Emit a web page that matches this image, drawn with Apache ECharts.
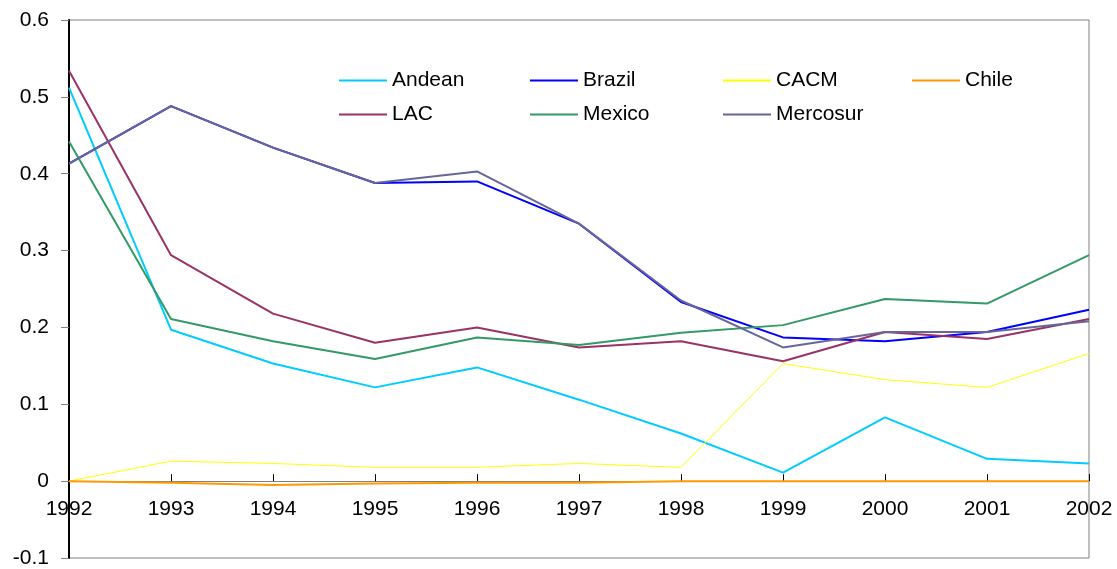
<!DOCTYPE html>
<html>
<head>
<meta charset="utf-8">
<script src="https://cdn.jsdelivr.net/npm/echarts@6/dist/echarts.min.js"></script>
<style>
  html, body { margin: 0; padding: 0; background: #fff; }
  #main { width: 1117px; height: 569px; }
</style>
</head>
<body>
<div id="main"></div>
<script>
var years = ['1992', '1993', '1994', '1995', '1996', '1997', '1998', '1999', '2000', '2001', '2002'];

var andean   = [0.512, 0.197, 0.153, 0.122, 0.148, 0.106, 0.062, 0.011, 0.083, 0.029, 0.023];
var brazil   = [0.413, 0.488, 0.434, 0.388, 0.390, 0.335, 0.233, 0.187, 0.182, 0.194, 0.223];
var cacm     = [0.000, 0.026, 0.023, 0.018, 0.018, 0.023, 0.018, 0.153, 0.132, 0.122, 0.166];
var chile    = [0.000, -0.002, -0.005, -0.003, -0.002, -0.002, 0.000, 0.000, 0.000, 0.000, 0.000];
var lac      = [0.534, 0.294, 0.218, 0.180, 0.200, 0.174, 0.182, 0.156, 0.194, 0.185, 0.211];
var mexico   = [0.442, 0.211, 0.182, 0.159, 0.187, 0.177, 0.193, 0.203, 0.237, 0.231, 0.294];
var mercosur = [0.413, 0.488, 0.434, 0.388, 0.403, 0.335, 0.235, 0.174, 0.194, 0.194, 0.208];

// legend columns, read left to right
var legendCols = [['Andean', 'LAC'], ['Brazil', 'Mexico'], ['CACM', 'Mercosur'], ['Chile']];
var legendLeft = [334, 525, 718, 907];

var font = 'Liberation Sans, Arial, sans-serif';

// plot box
var gridTop = 20, gridBottom = 11, chartH = 569;
var yMin = -0.1, yMax = 0.6;
var plotH = chartH - gridTop - gridBottom;
// move the category axis up so it sits on y = 0
var zeroOffset = -plotH * (0 - yMin) / (yMax - yMin);

function line(name, data, color, width) {
  return {
    name: name,
    type: 'line',
    data: data,
    symbol: 'none',
    lineStyle: { color: color, width: width },
    itemStyle: { color: color }
  };
}

var legends = legendCols.map(function (names, i) {
  return {
    left: legendLeft[i],
    top: 65,
    orient: 'vertical',
    icon: 'rect',
    itemWidth: 48,
    itemHeight: 2,
    itemGap: 13,
    textStyle: { fontFamily: font, fontSize: 21, color: '#000' },
    data: names
  };
});

var chart = echarts.init(document.getElementById('main'));
chart.setOption({
  animation: false,
  backgroundColor: '#fff',
  grid: {
    left: 69, right: 28, top: gridTop, bottom: gridBottom,
    outerBoundsMode: 'none',
    containLabel: false,
    show: true, borderColor: '#808080', borderWidth: 1
  },
  legend: legends,
  xAxis: {
    type: 'category',
    data: years,
    boundaryGap: false,
    position: 'bottom',
    offset: zeroOffset,
    axisLine: { onZero: false, lineStyle: { color: '#808080', width: 1 } },
    axisTick: { inside: true, length: 7, alignWithLabel: true, lineStyle: { color: '#000' } },
    axisLabel: { fontFamily: font, fontSize: 21, color: '#000', margin: 18 },
    splitLine: { show: false }
  },
  yAxis: {
    type: 'value',
    min: yMin,
    max: yMax,
    interval: 0.1,
    axisLine: { show: true, lineStyle: { color: '#000', width: 2 } },
    axisTick: { show: true, length: 8, lineStyle: { color: '#808080' } },
    axisLabel: {
      fontFamily: font, fontSize: 21, color: '#000', margin: 20,
      formatter: function (v) { return String(Math.round(v * 10) / 10); }
    },
    splitLine: { show: false }
  },
  series: [
    line('Andean', andean, '#00CCFF', 2),
    line('Brazil', brazil, '#0000FF', 2),
    line('CACM', cacm, '#FFFF00', 1),
    line('Chile', chile, '#FF9900', 2),
    line('LAC', lac, '#993366', 2),
    line('Mexico', mexico, '#339966', 2),
    line('Mercosur', mercosur, '#666699', 2)
  ]
});
</script>
</body>
</html>
